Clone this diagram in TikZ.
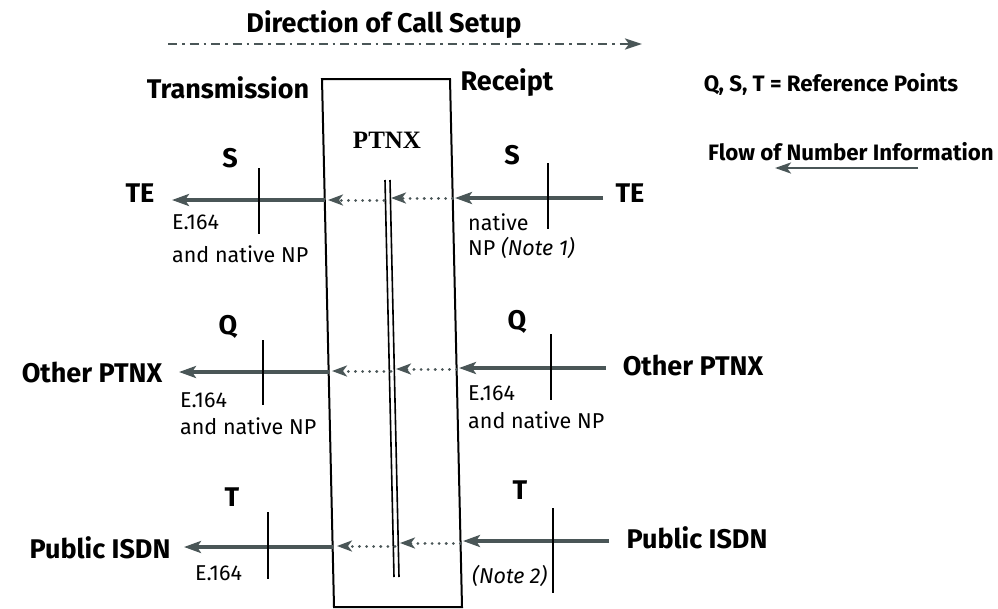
\documentclass[tikz,border=0pt]{standalone}
\usepackage{fontspec}
\newfontfamily\frut{Fira Sans}
\newfontfamily\tms{Liberation Serif}
\usetikzlibrary{arrows.meta}
\definecolor{flowgrey}{HTML}{4A5657}
\tikzset{
  big/.style={font=\frut\bfseries\fontsize{27}{31}\selectfont, inner sep=0pt},
  mid/.style={font=\frut\bfseries\fontsize{22.3}{26}\selectfont, inner sep=0pt},
  small/.style={font=\frut\fontsize{21.5}{25}\selectfont, inner sep=0pt, anchor=west},
  flow/.style={draw=flowgrey, line width=3.5pt, -{Stealth[length=17pt,width=12pt,inset=4pt]}},
  dotflow/.style={draw=flowgrey, line width=3pt, line cap=round, dash pattern=on 0.1pt off 7pt, -{Stealth[length=15pt,width=11pt,inset=4pt,line cap=butt]}},
  tickline/.style={draw=black, line width=2pt},
  boxline/.style={draw=black, line width=2pt},
}
\begin{document}
\begin{tikzpicture}[x=1pt,y=-1pt]
\useasboundingbox (0,0) rectangle (998,608);
% title
\node[big] (title) at (384,25) {Direction of Call Setup};
\coordinate (ds) at (168,44);
\coordinate (de) at (642,44);
\draw[draw=flowgrey, line width=2.8pt, dash pattern=on 9pt off 5pt on 2.5pt off 5pt, -{Stealth[length=17pt,width=11pt,inset=4pt]}] (ds) -- (de);
\node[big] (trans) at (228,88) {Transmission};
\node[big] (rec) at (507,83) {Receipt};
% PTNX box
\coordinate (b1) at (322,79);
\coordinate (b2) at (450,79);
\coordinate (b3) at (462,607);
\coordinate (b4) at (334,607);
\draw[boxline] (b1) -- (b2) -- (b3) -- (b4) -- cycle;
\node[font=\tms\bfseries\fontsize{25}{28}\selectfont, inner sep=0pt] (ptnx) at (387,140) {PTNX};
% double line
\coordinate (d1t) at (385,180); \coordinate (d1b) at (394,577);
\coordinate (d2t) at (390,180); \coordinate (d2b) at (399,577);
\draw[line width=1.6pt] (d1t) -- (d1b);
\draw[line width=1.6pt] (d2t) -- (d2b);
% legend
\node[mid] (refp) at (831,84) {Q, S, T = Reference Points};
\node[mid] (flowinfo) at (851,152) {Flow of Number Information};
\coordinate (la) at (918,168); \coordinate (lb) at (775,168);
\draw[draw=flowgrey, line width=2.6pt, -{Stealth[length=16pt,width=11pt,inset=4pt]}] (la) -- (lb);

% ---------- Row 1 (S) ----------
\node[big] (teL) at (140,193) {TE};
\node[big] (teR) at (630,193) {TE};
\node[big] (sL) at (230,158) {S};
\node[big] (sR) at (512,155) {S};
\coordinate (r1bl) at (324.7,200);
\coordinate (r1tipL) at (172,200);
\draw[flow] (r1bl) -- (r1tipL);
\coordinate (r1t1) at (259,168); \coordinate (r1t2) at (259,234);
\draw[tickline] (r1t1) -- (r1t2);
\coordinate (r1dl) at (384,200); \coordinate (r1dlt) at (328,200);
\draw[dotflow] (r1dl) -- (r1dlt);
\coordinate (r1br) at (452.7,198); \coordinate (r1drt) at (391,198);
\draw[dotflow] (r1br) -- (r1drt);
\coordinate (r1R) at (603,198); \coordinate (r1Rt) at (455,198);
\draw[flow] (r1R) -- (r1Rt);
\coordinate (r1u1) at (548,163); \coordinate (r1u2) at (548,229);
\draw[tickline] (r1u1) -- (r1u2);
\node[small] (e1) at (172,222) {E.164};
\node[small] (n1) at (172,254) {and native NP};
\node[small] (nat1) at (468,222) {native};
\node[small] (np1) at (468,248) {NP \textit{(Note 1)}};

% ---------- Row 2 (Q) ----------
\node[big] (opL) at (92,372) {Other PTNX};
\node[big] (opR) at (693,365) {Other PTNX};
\node[big] (qL) at (228,327) {Q};
\node[big] (qR) at (517,322) {Q};
\coordinate (r2bl) at (328.7,372);
\coordinate (r2tipL) at (179,372);
\draw[flow] (r2bl) -- (r2tipL);
\coordinate (r2t1) at (263,340); \coordinate (r2t2) at (263,405);
\draw[tickline] (r2t1) -- (r2t2);
\coordinate (r2dl) at (391,371); \coordinate (r2dlt) at (332,371);
\draw[dotflow] (r2dl) -- (r2dlt);
\coordinate (r2br) at (456.6,369); \coordinate (r2drt) at (396,369);
\draw[dotflow] (r2br) -- (r2drt);
\coordinate (r2R) at (606,368); \coordinate (r2Rt) at (459,368);
\draw[flow] (r2R) -- (r2Rt);
\coordinate (r2u1) at (551,334); \coordinate (r2u2) at (551,400);
\draw[tickline] (r2u1) -- (r2u2);
\node[small] (e2) at (180,400) {E.164};
\node[small] (n2) at (180,426) {and native NP};
\node[small] (e2r) at (468,393) {E.164};
\node[small] (n2r) at (468,420) {and native NP};

% ---------- Row 3 (T) ----------
\node[big] (piL) at (100,548) {Public ISDN};
\node[big] (piR) at (697,538) {Public ISDN};
\node[big] (tL) at (232,497) {T};
\node[big] (tR) at (520,490) {T};
\coordinate (r3bl) at (332.6,547);
\coordinate (r3tipL) at (184,547);
\draw[flow] (r3bl) -- (r3tipL);
\coordinate (r3t1) at (268,512); \coordinate (r3t2) at (268,579);
\draw[tickline] (r3t1) -- (r3t2);
\coordinate (r3dl) at (395,546); \coordinate (r3dlt) at (337,546);
\draw[dotflow] (r3dl) -- (r3dlt);
\coordinate (r3br) at (460.5,543); \coordinate (r3drt) at (400,543);
\draw[dotflow] (r3br) -- (r3drt);
\coordinate (r3R) at (609,541); \coordinate (r3Rt) at (463,541);
\draw[flow] (r3R) -- (r3Rt);
\coordinate (r3u1) at (553,508); \coordinate (r3u2) at (553,593);
\draw[tickline] (r3u1) -- (r3u2);
\node[small] (e3) at (195,573) {E.164};
\node[small] (note2) at (472,576) {\textit{(Note 2)}};
\end{tikzpicture}
\end{document}
